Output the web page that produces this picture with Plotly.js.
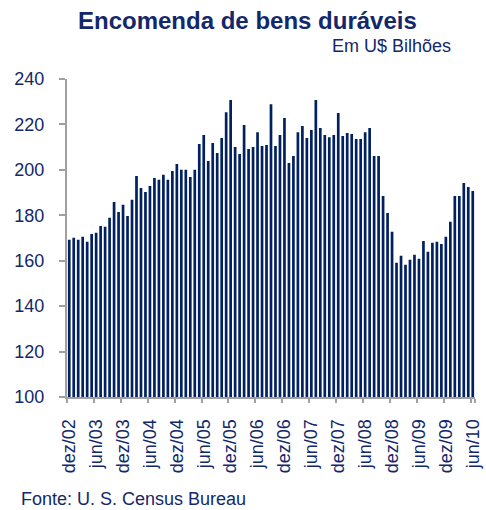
<!DOCTYPE html>
<html>
<head>
<meta charset="utf-8">
<script src="https://cdn.plot.ly/plotly-3.0.1.min.js"></script>
<style>html,body{margin:0;padding:0;background:#fff;}#chart{width:486px;height:510px;}</style>
</head>
<body>
<div id="chart"></div>
<script>
// Months (Portuguese abbreviations) from dez/02 to jun/10
const monthNames = ["jan","fev","mar","abr","mai","jun","jul","ago","set","out","nov","dez"];
const startYear = 2002, startMonth = 11; // dez/02
const nMonths = 91;

// Durable goods orders, US$ billions
const orders = [
  169.2, 170.1, 169.2, 170.5, 168.3, 171.8, 172.3, 175.3, 174.9, 178.9, 185.9, 181.5,
  184.6, 179.7, 186.8, 197.3, 192.0, 190.3, 192.9, 196.4, 195.6, 197.8, 195.6, 199.5,
  202.6, 200.0, 200.0, 196.9, 200.0, 211.4, 215.3, 203.9, 211.8, 207.4, 214.0, 225.4,
  230.7, 210.1, 207.0, 219.7, 209.2, 210.1, 216.6, 210.5, 210.9, 228.9, 210.5, 215.3,
  222.8, 203.0, 206.1, 216.6, 219.3, 214.0, 217.5, 230.7, 218.4, 215.3, 214.4, 215.3,
  225.0, 214.9, 216.2, 215.8, 213.6, 213.6, 216.6, 218.4, 206.1, 206.1, 188.5, 181.0,
  172.7, 159.1, 162.2, 158.2, 160.4, 162.6, 160.9, 168.7, 163.9, 167.9, 168.3, 167.4,
  170.5, 177.1, 188.5, 188.5, 194.2, 192.5, 190.7
];

const categories = [];
for (let i = 0; i < nMonths; i++) {
  const m = (startMonth + i) % 12;
  const y = startYear + Math.floor((startMonth + i) / 12);
  categories.push(monthNames[m] + "/" + String(y % 100).padStart(2, "0"));
}
const tickLabels = categories.filter((c, i) => i % 6 === 0);

const navy = "#002060";
const textColor = "#12286a";
const axisGrey = "#a0a0a0";

const trace = {
  type: "bar",
  x: categories,
  y: orders,
  marker: {color: navy},
  hoverinfo: "x+y"
};

const layout = {
  width: 486,
  height: 510,
  margin: {l: 67, r: 11, t: 79, b: 113},
  paper_bgcolor: "#ffffff",
  plot_bgcolor: "#ffffff",
  bargap: 0.4,
  showlegend: false,
  font: {family: "Liberation Sans, Arial, sans-serif", color: textColor},
  xaxis: {
    type: "category",
    tickmode: "array",
    tickvals: tickLabels,
    ticktext: tickLabels,
    tickson: "boundaries",
    ticks: "outside",
    ticklen: 4,
    tickwidth: 2,
    tickcolor: axisGrey,
    tickangle: -90,
    tickfont: {size: 18, color: textColor},
    ticklabelstandoff: 13,
    showline: true,
    linecolor: axisGrey,
    linewidth: 2,
    showgrid: false,
    zeroline: false
  },
  yaxis: {
    range: [100, 240],
    tickmode: "linear",
    tick0: 100,
    dtick: 20,
    ticks: "outside",
    ticklen: 6,
    tickwidth: 2,
    tickcolor: axisGrey,
    tickfont: {size: 18, color: textColor},
    ticklabelstandoff: 11,
    showline: true,
    linecolor: axisGrey,
    linewidth: 2,
    showgrid: false,
    zeroline: false
  },
  annotations: [
    {text: "<b>Encomenda de bens duráveis</b>", xref: "paper", yref: "paper",
     x: 0.4436, y: 1.1824, xanchor: "center", yanchor: "middle", showarrow: false,
     font: {size: 24, color: textColor}},
    {text: "Em U$ Bilhões", xref: "paper", yref: "paper",
     x: 0.946, y: 1.1038, xanchor: "right", yanchor: "middle", showarrow: false,
     font: {size: 18, color: textColor}},
    {text: "Fonte: U. S. Census Bureau", xref: "paper", yref: "paper",
     x: -0.1185, y: -0.322, xanchor: "left", yanchor: "middle", showarrow: false,
     font: {size: 18, color: textColor}}
  ]
};

Plotly.newPlot("chart", [trace], layout, {displayModeBar: false, staticPlot: true});
</script>
</body>
</html>
